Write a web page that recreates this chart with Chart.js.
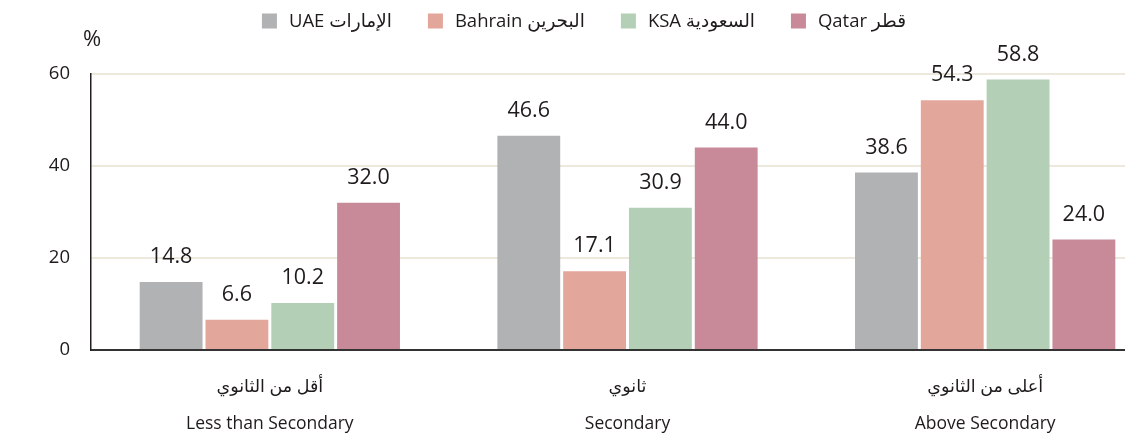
<!DOCTYPE html>
<html lang="ar">
<head>
  <meta charset="UTF-8">
  <title>Education level by country</title>
  <script src="https://cdn.jsdelivr.net/npm/chart.js"></script>
  <style>
    html, body { margin: 0; padding: 0; background: #ffffff; overflow: hidden; }
    .wrap { width: 1170px; height: 434px; position: relative; }
  </style>
</head>
<body>
  <div class="wrap"><canvas id="eduChart"></canvas></div>

  <script>
    // categories (Arabic line, English line)
    const categories = [
      ['أقل من الثانوي', 'Less than Secondary'],
      ['ثانوي', 'Secondary'],
      ['أعلى من الثانوي', 'Above Secondary']
    ];
    const seriesNames = ['UAE الإمارات', 'Bahrain البحرين', 'KSA السعودية', 'Qatar قطر'];
    const uae = [14.8, 46.6, 38.6];
    const bahrain = [6.6, 17.1, 54.3];
    const ksa = [10.2, 30.9, 58.8];
    const qatar = [32.0, 44.0, 24.0];
    const yTicks = [0, 20, 40, 60];

    const colors = ['#b1b2b4', '#e3a69a', '#b3cfb6', '#c88a99'];
    const FONT = '"Open Sans", "Noto Sans", "DejaVu Sans", sans-serif';
    const TEXT = '#1f1b1c';

    // value labels above each bar
    const valueLabels = {
      id: 'valueLabels',
      afterDatasetsDraw(chart) {
        const c = chart.ctx;
        c.save();
        c.font = '21.5px ' + FONT;
        c.fillStyle = TEXT;
        c.textAlign = 'center';
        c.textBaseline = 'middle';
        chart.data.datasets.forEach((ds, i) => {
          chart.getDatasetMeta(i).data.forEach((bar, j) => {
            c.fillText(ds.data[j].toFixed(1), bar.x, bar.y - 25);
          });
        });
        c.restore();
      }
    };

    // legend row + "%" unit
    const topLegend = {
      id: 'topLegend',
      afterDraw(chart) {
        const c = chart.ctx;
        c.save();
        c.font = '18.5px ' + FONT;
        c.textBaseline = 'middle';
        const box = 15, gapText = 12, gapItem = 36;
        const ds = chart.data.datasets;
        const widths = ds.map(d => box + gapText + c.measureText(d.label).width);
        const total = widths.reduce((a, b) => a + b, 0) + gapItem * (ds.length - 1);
        let x = 584 - total / 2;
        const y = 21;
        ds.forEach((d, i) => {
          c.fillStyle = d.backgroundColor;
          c.fillRect(x, y - box / 2, box, box);
          c.fillStyle = TEXT;
          c.textAlign = 'left';
          c.fillText(d.label, x + box + gapText, y + 1);
          x += widths[i] + gapItem;
        });
        c.font = '22px ' + FONT;
        c.textAlign = 'left';
        c.fillText('%', 83, 40);
        c.restore();
      }
    };

    const datasets = [uae, bahrain, ksa, qatar].map((vals, i) => ({
      label: seriesNames[i],
      data: vals,
      backgroundColor: colors[i],
      borderWidth: 0,
      categoryPercentage: 0.736,
      barPercentage: 0.955
    }));

    new Chart(document.getElementById('eduChart'), {
      type: 'bar',
      data: { labels: categories, datasets },
      options: {
        responsive: true,
        maintainAspectRatio: false,
        animation: false,
        layout: { padding: { top: 74, right: 6, left: 0, bottom: 0 } },
        plugins: { legend: { display: false }, tooltip: { enabled: false } },
        scales: {
          x: {
            grid: { display: false },
            border: { color: '#333333', width: 2 },
            ticks: {
              color: TEXT,
              font: { family: FONT, size: 17.5, lineHeight: 2.15 },
              padding: 10,
              maxRotation: 0
            },
            afterFit(scale) { scale.height = 84; }
          },
          y: {
            min: 0,
            max: 60,
            afterBuildTicks(scale) { scale.ticks = yTicks.map(v => ({ value: v })); },
            afterFit(scale) { scale.width = 91; },
            border: { color: '#231f20', width: 1.5 },
            grid: {
              drawTicks: false,
              color: ctx => ctx.tick && ctx.tick.value === 0 ? 'rgba(0,0,0,0)' : '#ede8dc',
              lineWidth: 2
            },
            ticks: {
              color: TEXT,
              font: { family: FONT, size: 18.5 },
              padding: 21
            }
          }
        }
      },
      plugins: [valueLabels, topLegend]
    });
  </script>
</body>
</html>
